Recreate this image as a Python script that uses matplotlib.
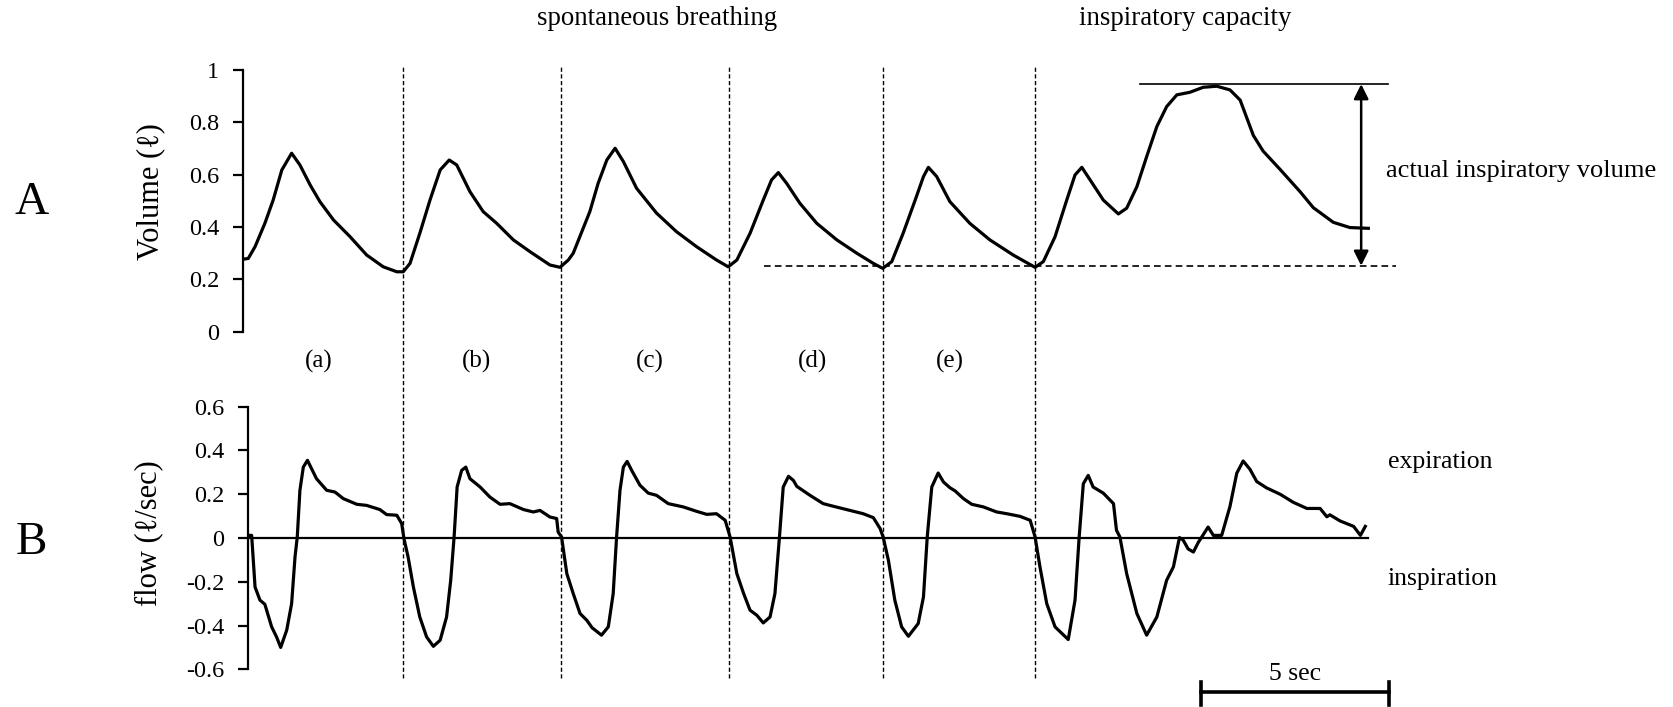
import numpy as np
import matplotlib
matplotlib.use('Agg')
import matplotlib.pyplot as plt
import matplotlib.transforms as mtransforms
from matplotlib.lines import Line2D

# volume trace (seconds, litres)
vol_t = [0.01, 0.14, 0.32, 0.58, 0.80, 1.03, 1.29, 1.51, 1.78, 2.04, 2.40, 2.84, 3.28, 3.72, 4.08, 4.25,
         4.43, 4.69, 4.96, 5.23, 5.47, 5.67, 6.02, 6.37, 6.73, 7.17, 7.61, 8.14, 8.41,
         8.63, 8.76, 9.20, 9.42, 9.65, 9.87, 10.09, 10.44, 10.97, 11.50, 12.03, 12.56, 12.87,
         13.10, 13.45, 13.80, 14.02, 14.20, 14.42, 14.77, 15.22, 15.75, 16.28, 16.72, 16.97,
         17.21, 17.51, 17.83, 18.05, 18.18, 18.40, 18.75, 19.28, 19.81, 20.43, 21.01,
         21.23, 21.54, 21.85, 22.07, 22.25, 22.47, 22.82, 23.22, 23.44, 23.71, 23.97, 24.24,
         24.50, 24.77, 25.12, 25.47, 25.83, 26.18, 26.45, 26.80, 27.06, 27.51, 28.04, 28.39,
         28.92, 29.36, 29.85]
vol = [0.277, 0.28, 0.325, 0.414, 0.503, 0.618, 0.682, 0.637, 0.561, 0.497, 0.427, 0.363, 0.293, 0.248, 0.229, 0.229,
       0.261, 0.376, 0.503, 0.618, 0.656, 0.637, 0.535, 0.459, 0.414, 0.351, 0.306, 0.255, 0.246,
       0.274, 0.30, 0.459, 0.567, 0.656, 0.701, 0.65, 0.548, 0.453, 0.382, 0.325, 0.274, 0.248,
       0.274, 0.376, 0.503, 0.58, 0.608, 0.567, 0.491, 0.414, 0.351, 0.30, 0.261, 0.242,
       0.268, 0.376, 0.503, 0.593, 0.628, 0.593, 0.497, 0.414, 0.351, 0.293, 0.246,
       0.268, 0.363, 0.503, 0.599, 0.628, 0.58, 0.503, 0.45, 0.472, 0.554, 0.669, 0.784,
       0.86, 0.905, 0.915, 0.934, 0.938, 0.924, 0.885, 0.75, 0.69, 0.62, 0.535, 0.474,
       0.418, 0.398, 0.395]

# flow trace (seconds, litres/sec)
flow_t = [0.10, 0.23, 0.32, 0.45, 0.58, 0.76, 0.89, 1.00, 1.16, 1.29, 1.38, 1.44, 1.51, 1.60, 1.71, 1.82,
          1.95, 2.22, 2.44, 2.66, 3.02, 3.28, 3.63, 3.81, 4.08, 4.21, 4.27, 4.38, 4.52, 4.69,
          4.87, 5.05, 5.23, 5.40, 5.51, 5.60, 5.68, 5.80, 5.91, 6.02, 6.29, 6.55, 6.82, 7.08,
          7.44, 7.70, 7.88, 8.14, 8.32, 8.36, 8.45, 8.59, 8.76, 8.94, 9.12, 9.26, 9.51, 9.69,
          9.82, 9.91, 10.00, 10.09, 10.19, 10.31, 10.53, 10.75, 10.97, 11.28, 11.68, 12.03,
          12.30, 12.56, 12.79, 12.92, 13.10, 13.28, 13.45, 13.63, 13.80, 13.98, 14.11, 14.23,
          14.33, 14.47, 14.60, 14.69, 15.04, 15.39, 15.66, 16.10, 16.45, 16.72, 16.90, 16.98,
          17.12, 17.29, 17.47, 17.65, 17.91, 18.05, 18.15, 18.27, 18.44, 18.58, 18.75, 18.89,
          19.11, 19.33, 19.64, 19.99, 20.26, 20.61, 20.88, 21.01, 21.14, 21.32, 21.54, 21.89,
          22.07, 22.18, 22.29, 22.42, 22.55, 22.82, 23.09, 23.17, 23.26, 23.44, 23.71, 23.97,
          24.24, 24.50, 24.68, 24.84, 24.94, 25.07, 25.21, 25.34, 25.47, 25.60, 25.74, 25.96,
          26.18, 26.36, 26.53, 26.71, 26.89, 27.15, 27.51, 27.86, 28.22, 28.57, 28.75, 28.83,
          29.10, 29.46, 29.64, 29.77]
flow = [0.012, 0.012, -0.224, -0.284, -0.303, -0.406, -0.452, -0.50, -0.421, -0.30, -0.087, 0.005, 0.218, 0.324, 0.355, 0.317,
        0.271, 0.218, 0.21, 0.18, 0.154, 0.149, 0.13, 0.107, 0.104, 0.066, -0.003, -0.087, -0.224, -0.361,
        -0.452, -0.495, -0.467, -0.361, -0.193, 0.005, 0.233, 0.309, 0.324, 0.271, 0.233, 0.187, 0.154, 0.157,
        0.13, 0.119, 0.126, 0.096, 0.089, 0.027, 0.005, -0.163, -0.254, -0.345, -0.376, -0.41, -0.444, -0.406,
        -0.254, 0.005, 0.218, 0.324, 0.35, 0.309, 0.241, 0.205, 0.195, 0.157, 0.142, 0.122,
        0.108, 0.111, 0.081, 0.005, -0.163, -0.254, -0.33, -0.353, -0.388, -0.361, -0.254, 0.005,
        0.233, 0.282, 0.263, 0.236, 0.195, 0.157, 0.145, 0.126, 0.111, 0.093, 0.043, 0.005,
        -0.102, -0.284, -0.406, -0.449, -0.391, -0.269, 0.005, 0.233, 0.297, 0.256, 0.23, 0.215,
        0.18, 0.154, 0.142, 0.119, 0.111, 0.099, 0.081, 0.005, -0.132, -0.30, -0.406, -0.464,
        -0.284, 0.005, 0.248, 0.286, 0.233, 0.205, 0.157, 0.035, 0.005, -0.163, -0.345, -0.444,
        -0.361, -0.193, -0.132, 0.002, -0.01, -0.05, -0.064, -0.02, 0.015, 0.05, 0.012, 0.012,
        0.144, 0.296, 0.352, 0.314, 0.258, 0.229, 0.20, 0.163, 0.135, 0.135, 0.097, 0.106,
        0.078, 0.053, 0.012, 0.053]

breath_bounds = [4.24, 8.44, 12.89, 16.98, 21.01]
breath_labels = ['(a)', '(b)', '(c)', '(d)', '(e)']
breath_label_t = [2.0, 6.2, 10.8, 15.1, 18.75]
frc_level = 0.252
ic_level = 0.946

plt.rcParams['font.family'] = ['Liberation Serif', 'DejaVu Serif']
plt.rcParams['axes.unicode_minus'] = False

W, H = 1674, 707
fig = plt.figure(figsize=(W / 100, H / 100), dpi=100)
ax1 = fig.add_axes([243 / W, (H - 331.7) / H, 1157 / W, (331.7 - 70) / H])
ax2 = fig.add_axes([248 / W, (H - 669.3) / H, 1152 / W, (669.3 - 406.7) / H])

for ax in (ax1, ax2):
    ax.patch.set_alpha(0)
    for s in ['top', 'right', 'bottom']:
        ax.spines[s].set_visible(False)
    ax.spines['left'].set_linewidth(1.6)
    ax.set_xticks([])
    ax.tick_params(axis='y', direction='out', length=7, width=1.6, labelsize=17.5, pad=10)

ax1.plot(vol_t, vol, color='black', lw=2.3, solid_joinstyle='round')
ax1.set_xlim(0, 30.69)
ax1.set_ylim(0, 1)
ax1.set_yticks([0, 0.2, 0.4, 0.6, 0.8, 1])
ax1.set_yticklabels(['0', '0.2', '0.4', '0.6', '0.8', '1'])

ax2.plot(flow_t, flow, color='black', lw=2.3, solid_joinstyle='round')
ax2.plot([0.133, 29.84], [0, 0], color='black', lw=1.6)
ax2.set_xlim(0.133, 30.69)
ax2.set_ylim(-0.6, 0.6)
ax2.set_yticks([-0.6, -0.4, -0.2, 0, 0.2, 0.4, 0.6])
ax2.set_yticklabels(['-0.6', '-0.4', '-0.2', '0', '0.2', '0.4', '0.6'])

# FRC baseline, IC level and arrow
ax1.plot([13.82, 30.58], [frc_level, frc_level], color='black', lw=1.2, ls=(0, (4, 2.5)), clip_on=False)
ax1.plot([23.79, 30.37], [ic_level, ic_level], color='black', lw=1.2, clip_on=False)
ax1.annotate('', xy=(29.66, ic_level), xytext=(29.66, frc_level),
             arrowprops=dict(arrowstyle='<|-|>', color='black', lw=1.8, mutation_scale=22,
                             shrinkA=0, shrinkB=0), annotation_clip=False)

# breath boundaries spanning both panels
trans = mtransforms.blended_transform_factory(ax1.transData, fig.transFigure)
for t in breath_bounds:
    fig.add_artist(Line2D([t, t], [0.041, 0.906], transform=trans, color='black', lw=1.0,
                          ls=(0, (3, 1.8))))
for t, lab in zip(breath_label_t, breath_labels):
    fig.text(t, 0.4894, lab, transform=trans, fontsize=18, ha='center', va='center')

# 5 sec scale bar
trans2 = mtransforms.blended_transform_factory(ax2.transData, fig.transFigure)
fig.add_artist(Line2D([25.4, 30.4], [0.0212, 0.0212], transform=trans2, color='black', lw=2.6))
for t in [25.4, 30.4]:
    fig.add_artist(Line2D([t, t], [0.003, 0.036], transform=trans2, color='black', lw=2.6))
fig.text(27.9, 0.038, '5 sec', transform=trans2, fontsize=18.5, ha='center', va='baseline')

fig.text(0.3925, 0.964, 'spontaneous breathing', fontsize=19.3, ha='center', va='baseline')
fig.text(0.708, 0.964, 'inspiratory capacity', fontsize=19.3, ha='center', va='baseline')
fig.text(0.828, 0.7496, 'actual inspiratory volume', fontsize=19, ha='left', va='baseline')
fig.text(0.829, 0.338, 'expiration', fontsize=18.5, ha='left', va='baseline')
fig.text(0.829, 0.1726, 'inspiration', fontsize=18.5, ha='left', va='baseline')
fig.text(0.019, 0.713, 'A', fontsize=34, ha='center', va='center')
fig.text(0.019, 0.2327, 'B', fontsize=34, ha='center', va='center')
fig.text(0.0901, 0.7289, 'Volume (ℓ)', fontsize=22, rotation=90, ha='center', va='center')
fig.text(0.0886, 0.2461, 'flow (ℓ/sec)', fontsize=22, rotation=90, ha='center', va='center')

fig.savefig('out.png', dpi=100)
